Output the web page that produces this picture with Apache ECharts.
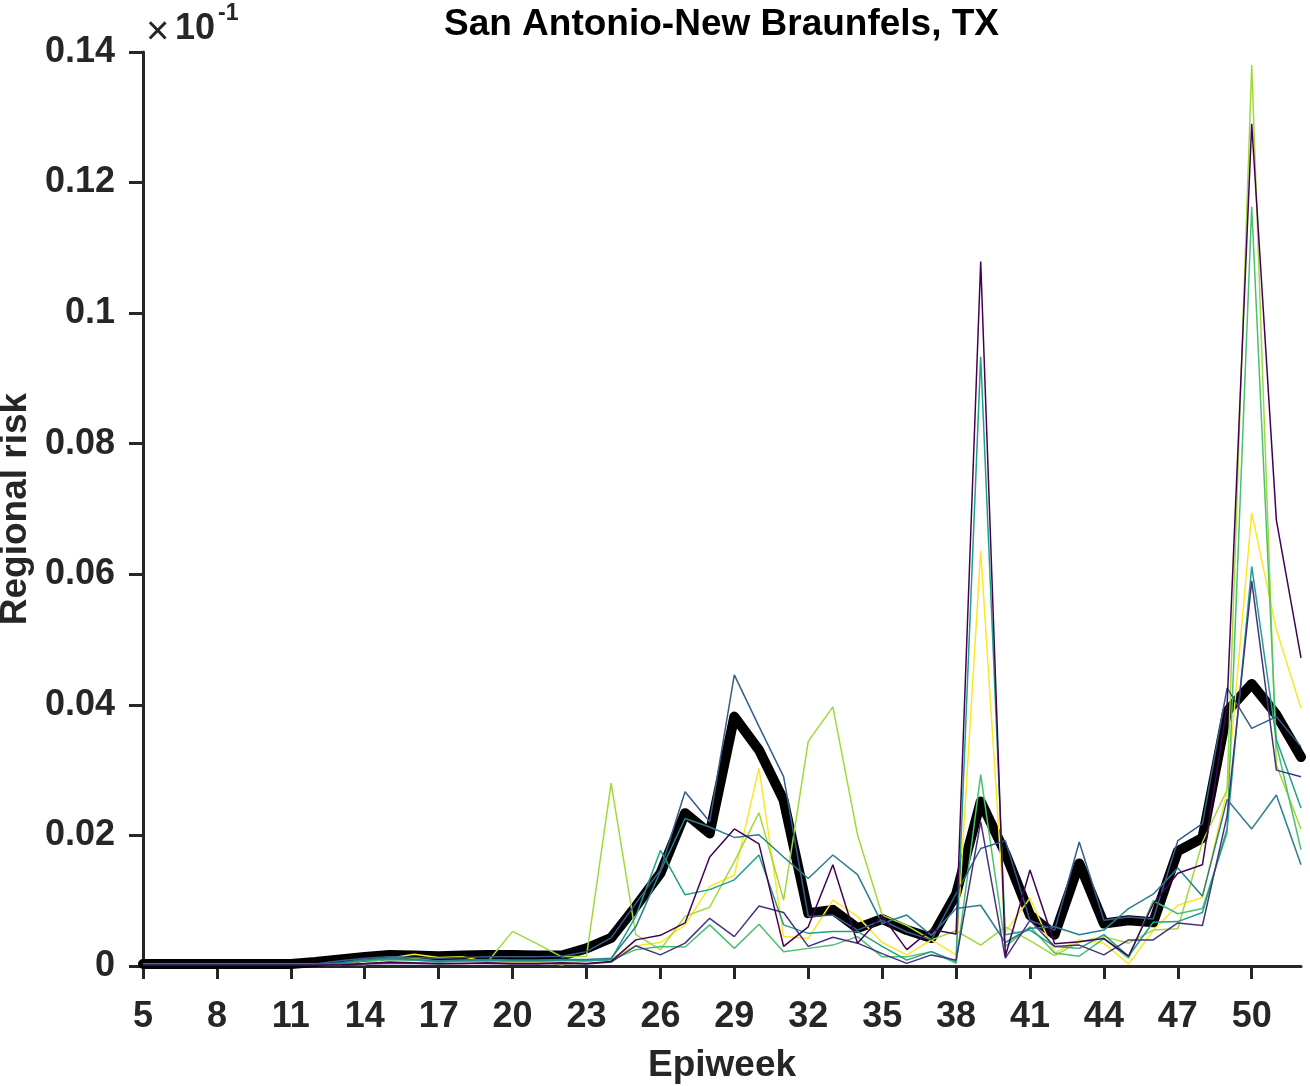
<!DOCTYPE html>
<html>
<head>
<meta charset="utf-8">
<script src="https://cdn.jsdelivr.net/npm/echarts@6/dist/echarts.min.js"></script>
<style>
html,body{margin:0;padding:0;background:#fff;}
#chart{width:1310px;height:1086px;}
</style>
</head>
<body>
<div id="chart"></div>
<script>
// ---- data ----
const weeks = [5,6,7,8,9,10,11,12,13,14,15,16,17,18,19,20,21,22,23,24,25,26,27,28,29,30,31,32,33,34,35,36,37,38,39,40,41,42,43,44,45,46,47,48,49,50,51,52];
const xTickLabels = [5,8,11,14,17,20,23,26,29,32,35,38,41,44,47,50];
const yTicks = [0,0.02,0.04,0.06,0.08,0.1,0.12,0.14];

const meanRisk = [0.0003,0.0003,0.0003,0.0003,0.0003,0.0003,0.0003,0.0006,0.0010,0.0014,0.0017,0.0016,0.0015,0.0016,0.0017,0.0017,0.0016,0.0016,0.0027,0.0043,0.0091,0.0142,0.0234,0.0203,0.0382,0.0331,0.0254,0.0081,0.0086,0.0058,0.0072,0.0055,0.0043,0.0110,0.0252,0.0173,0.0078,0.0048,0.0157,0.0065,0.0070,0.0067,0.0176,0.0196,0.0390,0.0432,0.0385,0.0320];

const run1 = [0.0001,0.0001,0.0001,0.0001,0.0001,0.0001,0.0001,0.0001,0.0002,0.0004,0.0006,0.0005,0.0004,0.0004,0.0005,0.0004,0.0004,0.0005,0.0004,0.0007,0.0040,0.0047,0.0066,0.0167,0.0210,0.0187,0.0030,0.0060,0.0155,0.0035,0.0077,0.0025,0.0056,0.0049,0.1079,0.0015,0.0147,0.0034,0.0037,0.0042,0.0015,0.0095,0.0142,0.0155,0.0400,0.1290,0.0683,0.0472];
const run2 = [0.0001,0.0001,0.0001,0.0001,0.0001,0.0001,0.0001,0.0001,0.0002,0.0003,0.0004,0.0004,0.0003,0.0004,0.0004,0.0003,0.0003,0.0004,0.0003,0.0006,0.0031,0.0017,0.0035,0.0073,0.0045,0.0092,0.0082,0.0030,0.0044,0.0035,0.0019,0.0004,0.0017,0.0009,0.0221,0.0012,0.0070,0.0030,0.0032,0.0017,0.0040,0.0040,0.0066,0.0062,0.0230,0.0590,0.0300,0.0290];
const run3 = [0.0003,0.0003,0.0003,0.0003,0.0003,0.0003,0.0003,0.0003,0.0008,0.0012,0.0014,0.0013,0.0012,0.0013,0.0014,0.0014,0.0014,0.0015,0.0022,0.0043,0.0096,0.0147,0.0267,0.0221,0.0446,0.0367,0.0290,0.0076,0.0078,0.0055,0.0070,0.0052,0.0040,0.0111,0.0180,0.0192,0.0070,0.0055,0.0190,0.0070,0.0075,0.0072,0.0192,0.0218,0.0426,0.0364,0.0382,0.0336];
const run4 = [0.0002,0.0002,0.0002,0.0002,0.0002,0.0002,0.0002,0.0002,0.0005,0.0010,0.0012,0.0010,0.0008,0.0009,0.0010,0.0009,0.0009,0.0010,0.0010,0.0012,0.0060,0.0145,0.0226,0.0213,0.0197,0.0201,0.0167,0.0134,0.0170,0.0140,0.0065,0.0078,0.0047,0.0088,0.0093,0.0036,0.0058,0.0060,0.0048,0.0055,0.0088,0.0110,0.0150,0.0107,0.0255,0.0210,0.0262,0.0155];
const run5 = [0.0002,0.0002,0.0002,0.0002,0.0002,0.0002,0.0002,0.0002,0.0004,0.0009,0.0011,0.0009,0.0007,0.0008,0.0009,0.0008,0.0008,0.0009,0.0008,0.0010,0.0076,0.0177,0.0109,0.0117,0.0132,0.0170,0.0063,0.0050,0.0053,0.0053,0.0030,0.0009,0.0022,0.0007,0.0933,0.0048,0.0055,0.0030,0.0027,0.0048,0.0015,0.0067,0.0068,0.0082,0.0210,0.0612,0.0347,0.0242];
const run6 = [0.0002,0.0002,0.0002,0.0002,0.0002,0.0002,0.0002,0.0002,0.0004,0.0008,0.0010,0.0009,0.0006,0.0007,0.0008,0.0007,0.0007,0.0008,0.0008,0.0009,0.0025,0.0030,0.0029,0.0063,0.0027,0.0064,0.0022,0.0027,0.0032,0.0045,0.0014,0.0014,0.0022,0.0004,0.0293,0.0030,0.0060,0.0020,0.0015,0.0042,0.0012,0.0100,0.0080,0.0088,0.0204,0.1163,0.0340,0.0178];
const run7 = [0.0003,0.0003,0.0003,0.0003,0.0003,0.0003,0.0003,0.0003,0.0003,0.0002,0.0014,0.0012,0.0007,0.0008,0.0007,0.0053,0.0034,0.0014,0.0015,0.0280,0.0048,0.0025,0.0076,0.0090,0.0160,0.0235,0.0101,0.0344,0.0397,0.0201,0.0078,0.0062,0.0040,0.0054,0.0032,0.0060,0.0039,0.0016,0.0037,0.0045,0.0035,0.0055,0.0057,0.0190,0.0270,0.1380,0.0308,0.0210];
const run8 = [0.0001,0.0001,0.0001,0.0001,0.0001,0.0001,0.0001,0.0001,0.0002,0.0009,0.0012,0.0018,0.0013,0.0014,0.0006,0.0006,0.0006,0.0002,0.0008,0.0012,0.0031,0.0036,0.0063,0.0122,0.0139,0.0303,0.0045,0.0042,0.0101,0.0076,0.0036,0.0017,0.0040,0.0017,0.0636,0.0052,0.0104,0.0020,0.0040,0.0035,0.0003,0.0054,0.0093,0.0105,0.0268,0.0694,0.0515,0.0395];

const runs = [run1, run2, run3, run4, run5, run6, run7, run8];
const runColors = ['#440154','#46337E','#365C8D','#277F8E','#1FA187','#4AC16D','#A0DA39','#FDE725'];

const titleText = 'San Antonio-New Braunfels, TX';
const xName = 'Epiweek';
const yName = 'Regional risk';

// ---- chart ----
const FONT = '"Liberation Sans", Arial, Helvetica, sans-serif';
const AX = '#262626';
const pairs = arr => weeks.map((w, i) => [w, arr[i]]);

const series = [{
  type: 'line', data: pairs(meanRisk), showSymbol: false, symbol: 'none',
  lineStyle: { color: '#000', width: 10, join: 'round', cap: 'round' },
  z: 2, animation: false
}];
for (let k = runs.length - 1; k >= 0; k--) {
  series.push({
    type: 'line', data: pairs(runs[k]), showSymbol: false, symbol: 'none',
    lineStyle: { color: runColors[k], width: 1.5 },
    z: 3, animation: false
  });
}

const chart = echarts.init(document.getElementById('chart'), null, { renderer: 'canvas' });
chart.setOption({
  backgroundColor: '#fff',
  animation: false,
  grid: { left: 143, right: 9, top: 52, bottom: 120, containLabel: false, outerBoundsMode: 'none' },
  xAxis: {
    type: 'value', min: 5, max: 52, interval: 3,
    name: xName, nameLocation: 'middle', nameGap: 81,
    nameTextStyle: { fontFamily: FONT, fontWeight: 'bold', fontSize: 37, color: AX },
    axisLine: { show: true, onZero: false, lineStyle: { color: AX, width: 3 } },
    axisTick: { show: true, inside: false, length: 13, lineStyle: { color: AX, width: 3 }, customValues: xTickLabels },
    axisLabel: { fontFamily: FONT, fontWeight: 'bold', fontSize: 36, color: AX, margin: 33, customValues: xTickLabels },
    splitLine: { show: false }
  },
  yAxis: {
    type: 'value', min: 0, max: 0.14, interval: 0.02,
    name: yName, nameLocation: 'middle', nameGap: 108, nameRotate: 90,
    nameTextStyle: { fontFamily: FONT, fontWeight: 'bold', fontSize: 37, color: AX },
    axisLine: { show: true, lineStyle: { color: AX, width: 3 } },
    axisTick: { show: true, inside: false, length: 14, lineStyle: { color: AX, width: 3 }, customValues: yTicks },
    axisLabel: { fontFamily: FONT, fontWeight: 'bold', fontSize: 36, color: AX, margin: 28, customValues: yTicks,
      formatter: v => String(+v.toFixed(2)) },
    splitLine: { show: false }
  },
  graphic: [
    { type: 'text', style: { x: 721.5, y: 6, text: titleText, textAlign: 'center', textVerticalAlign: 'top',
      font: 'bold 37px ' + FONT, fill: '#000' } },
    { type: 'text', style: { x: 146, y: 13, text: '\u00d7', textAlign: 'left', textVerticalAlign: 'top',
      font: '40px ' + FONT, fill: AX } },
    { type: 'text', style: { x: 175, y: 11, text: '10', textAlign: 'left', textVerticalAlign: 'top',
      font: 'bold 36px ' + FONT, fill: AX } },
    { type: 'text', style: { x: 218, y: 2, text: '-1', textAlign: 'left', textVerticalAlign: 'top',
      font: 'bold 23px ' + FONT, fill: AX } }
  ],
  series: series
});
</script>
</body>
</html>
